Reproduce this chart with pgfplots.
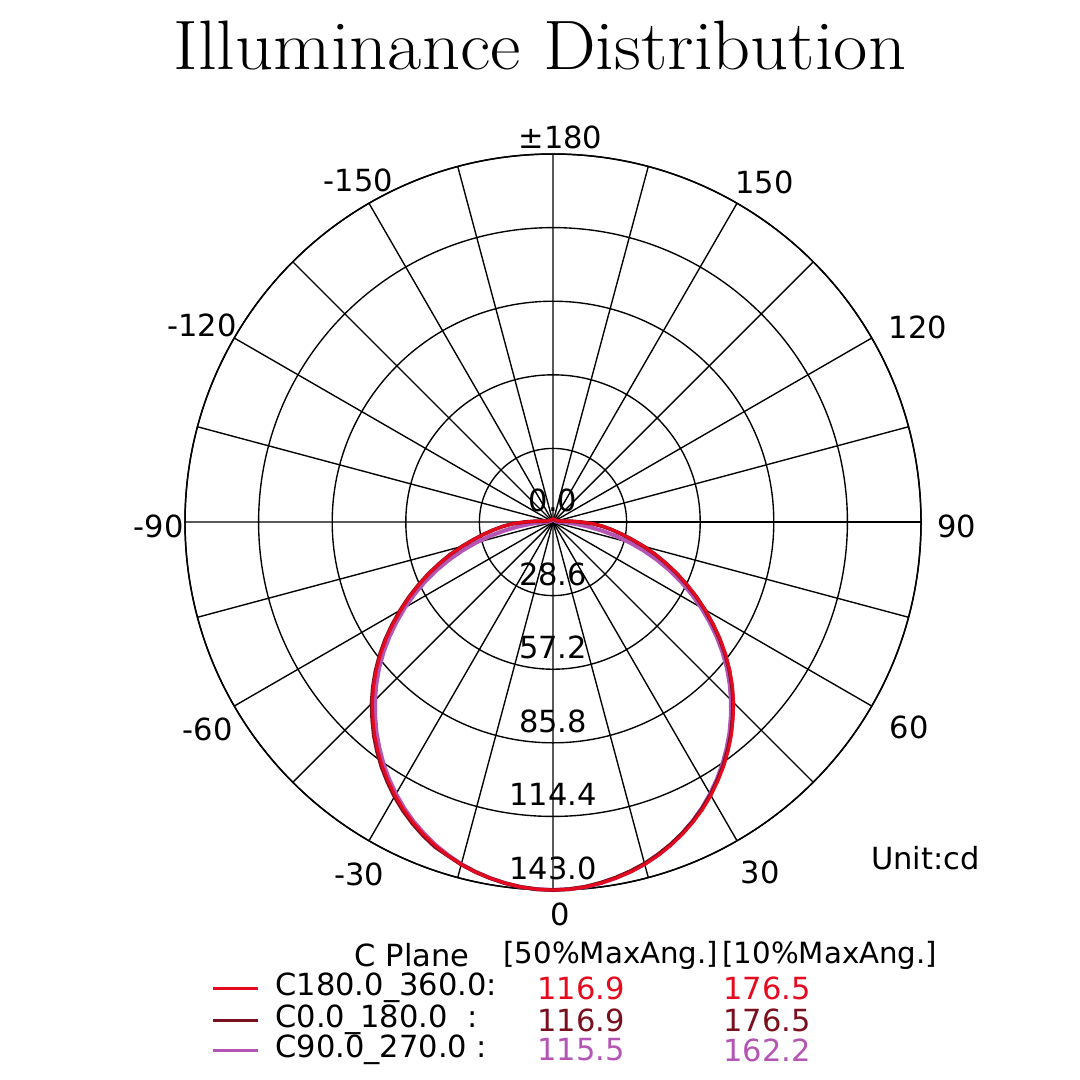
\documentclass[border=0pt]{standalone}
\usepackage{pgfplots}
\pgfplotsset{compat=1.18}
\usepgfplotslibrary{polar}
\usepackage{pgfplotstable}
\usepackage{fontspec}
\newfontfamily\lab{DejaVu Sans}
\definecolor{cred}{HTML}{E50A1E}
\definecolor{cdark}{HTML}{7A0F1E}
\definecolor{cpurp}{HTML}{B455B4}

% angle measured from the downward direction (0), positive toward the right
\pgfplotstableread{
a r
-180 1.2
-150 1.2
-120 1.3
-110 1.6
-100 2.4
-95 4.2
-92.5 7
-90 11
-87.5 15.7
-85 19.5
-82.5 23.2
-80 27.2
-77.5 31.6
-75 36.5
-72.5 41.7
-70 46.7
-67.5 52.1
-65 57.4
-62.5 62.9
-60 68.3
-57.5 73.8
-55 79.3
-52.5 84.6
-50 89.7
-47.5 94.6
-45 99.3
-42.5 103.6
-40 107.9
-37.5 111.9
-35 115.73
-32.5 119.3
-30 122.73
-27.5 125.9
-25 128.76
-22.5 131.4
-20 133.77
-17.5 135.9
-15 137.78
-12.5 139.3
-10 140.55
-7.5 141.6
-5 142.39
-2.5 142.85
0 143
2.5 142.85
5 142.39
7.5 141.6
10 140.55
12.5 139.3
15 137.78
17.5 135.9
20 133.77
22.5 131.4
25 128.76
27.5 125.9
30 122.73
32.5 119.3
35 115.73
37.5 111.9
40 107.9
42.5 103.6
45 99.3
47.5 94.6
50 89.7
52.5 84.6
55 79.3
57.5 73.8
60 68.3
62.5 62.9
65 57.4
67.5 52.1
70 46.7
72.5 41.7
75 36.5
77.5 31.6
80 27.2
82.5 23.2
85 19.5
87.5 15.7
90 11
92.5 7
95 4.2
100 2.4
110 1.6
120 1.3
150 1.2
180 1.2
}\redtab

\pgfplotstableread{
a r
-180 1.2
-150 1.2
-120 1.3
-110 1.6
-100 2.4
-95 4.2
-92.5 7
-90 11.04
-87.5 15.76
-85 19.58
-82.5 23.29
-80 27.31
-77.5 31.73
-75 36.65
-72.5 41.87
-70 46.89
-67.5 52.31
-65 57.63
-62.5 63.15
-60 68.57
-57.5 74.1
-55 79.62
-52.5 84.94
-50 90.06
-47.5 94.98
-45 99.7
-42.5 104.01
-40 108.33
-37.5 112.35
-35 116.19
-32.5 119.78
-30 123.22
-27.5 126.4
-25 129.27
-22.5 131.9
-20 134.3
-17.5 135.95
-15 137.8
-12.5 139.3
-10 140.55
-7.5 141.6
-5 142.39
-2.5 142.85
0 143
2.5 142.8
5 142.3
7.5 141.4
10 140.3
12.5 138.95
15 137.4
17.5 135.49
20 133.37
22.5 131.01
25 128.37
27.5 125.52
30 122.36
32.5 118.94
35 115.38
37.5 111.56
40 107.58
42.5 103.29
45 99.0
47.5 94.32
50 89.43
52.5 84.35
55 79.06
57.5 73.58
60 68.1
62.5 62.71
65 57.23
67.5 51.94
70 46.56
72.5 41.57
75 36.39
77.5 31.5
80 27.1
82.5 23.1
85 19.4
87.5 15.6
90 10.9
92.5 7
95 4.2
100 2.4
110 1.6
120 1.3
150 1.2
180 1.2
}\darktab

\pgfplotstableread{
a r
-180 1.0
-120 1.0
-100 1.2
-95 1.6
-90 3.0
-87.5 5.3
-85 9.0
-82.5 13.8
-80 19.2
-77.5 25.0
-75 31.0
-72.5 37.0
-70 43.0
-67.5 49.0
-65 54.9
-62.5 60.7
-60 66.4
-57.5 72.0
-55 77.6
-52.5 83.0
-50 88.2
-47.5 93.1
-45 97.8
-42.5 102.3
-40 106.7
-37.5 110.8
-35 114.8
-32.5 118.5
-30 122.0
-27.5 125.3
-25 128.3
-22.5 131.0
-20 133.5
-17.5 135.7
-15 137.6
-12.5 139.2
-10 140.5
-7.5 141.58
-5 142.38
-2.5 142.85
0 143
2.5 142.85
5 142.38
7.5 141.58
10 140.5
12.5 139.2
15 137.6
17.5 135.7
20 133.5
22.5 131.0
25 128.3
27.5 125.3
30 122.0
32.5 118.5
35 114.8
37.5 110.8
40 106.7
42.5 102.3
45 97.8
47.5 93.1
50 88.2
52.5 83.0
55 77.6
57.5 72.0
60 66.4
62.5 60.7
65 54.9
67.5 49.0
70 43.0
72.5 37.0
75 31.0
77.5 25.0
80 19.2
82.5 13.8
85 9.0
87.5 5.3
90 3.0
95 1.6
100 1.2
120 1.0
180 1.0
}\purptab

\begin{document}
\begin{tikzpicture}
\begin{polaraxis}[
  at={(221.2pt,-208.8pt)}, anchor=center,
  scale only axis, width=294.4pt, height=294.4pt,
  xmin=0, xmax=360, ymin=0, ymax=143,
  xtick={30,60,120,150},
  xticklabels={120,150,-150,-120},
  extra x ticks={0,90,180,210,240,270,300,330},
  extra x tick labels={90,{±180},-90,-60,-30,0,30,60},
  extra x tick style={grid=major, xticklabel style={xshift=-0.6pt, yshift=2.8pt}},
  minor xtick={15,45,...,345},
  ytick={28.6,57.2,85.8,114.4,143},
  yticklabels={},
  grid=both,
  major grid style={black, line width=0.55pt},
  minor grid style={black, line width=0.55pt},
  axis line style={black, line width=0.6pt},
  major tick style={draw=none}, minor tick style={draw=none},
  xticklabel style={font=\lab\fontsize{12.2}{14}\selectfont, text=black, xshift=3.6pt, yshift=-4.4pt},
  clip=false,
]
\addplot[cpurp, line width=1.6pt, line join=round] table[x expr=\thisrow{a}-90, y=r] {\purptab};
\addplot[cdark, line width=1.5pt, line join=round] table[x expr=\thisrow{a}-90, y=r] {\darktab};
\addplot[cred, line width=1.2pt, line join=round] table[x expr=\thisrow{a}-90, y=r] {\redtab};
\foreach \v/\t in {0/0.0, 28.6/28.6, 57.2/57.2, 85.8/85.8, 114.4/114.4, 143/143.0}{
  \edef\temp{\noexpand\node[anchor=base, inner sep=0pt, yshift=4.2pt, font=\noexpand\lab\noexpand\fontsize{12.2}{14}\noexpand\selectfont] at (axis cs:270,\v) {\t};}
  \temp
}
\end{polaraxis}
\begin{scope}[x=0.4pt, y=-0.4pt]
\node[anchor=base, inner sep=0pt, font=\fontsize{28}{31}\selectfont] at (540,69) {\scalebox{1.065}[1]{Illuminance Distribution}};
\begin{scope}[font=\lab\fontsize{12.2}{14}\selectfont, inner sep=0pt]
\node[anchor=east] at (980,858) {Unit:cd};
\node[anchor=east] at (470,955) {C Plane};
\node[anchor=west, font=\lab\fontsize{11.7}{14}\selectfont] at (503,955) {[50\%MaxAng.]};
\node[anchor=west, font=\lab\fontsize{11.7}{14}\selectfont] at (722,955) {[10\%MaxAng.]};
\draw[cred, line width=1.2pt] (213,988) -- (258,988);
\draw[cdark, line width=1.2pt] (213,1020) -- (258,1020);
\draw[cpurp, line width=1.2pt] (213,1050) -- (258,1050);
\node[anchor=west] at (275,988) {C180.0\_360.0:};
\node[anchor=west] at (275,1020) {C0.0\_180.0\ \ :};
\node[anchor=west] at (275,1050) {C90.0\_270.0 :};
\node[anchor=west, text=cred] at (537,988) {116.9};
\node[anchor=west, text=cred] at (723,988) {176.5};
\node[anchor=west, text=cdark] at (537,1020) {116.9};
\node[anchor=west, text=cdark] at (723,1020) {176.5};
\node[anchor=west, text=cpurp] at (537,1050) {115.5};
\node[anchor=west, text=cpurp] at (723,1050) {162.2};
\end{scope}
\pgfresetboundingbox
\path[use as bounding box] (0,0) rectangle (1080,1080);
\end{scope}
\end{tikzpicture}
\end{document}
